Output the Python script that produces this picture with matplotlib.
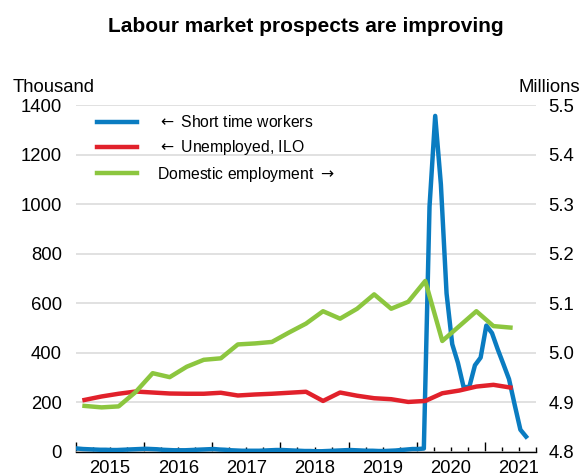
import matplotlib
matplotlib.use("Agg")
import matplotlib.pyplot as plt
import matplotlib.transforms as mtransforms
from matplotlib.lines import Line2D

plt.rcParams["font.family"] = ["Liberation Sans", "DejaVu Sans"]

BLUE, RED, GREEN, GRID = "#0a7cc1", "#e1212b", "#8cc63f", "#d9d9d9"
FS = 13.3

# quarterly series, 2015Q1 - 2021Q2
quarters = [(y, q) for y in range(2015, 2022) for q in range(4)][:26]
unemployed = [210, 224, 235, 244, 240, 236, 235, 235, 239, 228, 232, 235, 239,
              243, 206, 240, 227, 217, 213, 202, 206, 237, 248, 264, 271, 260]
employment = [4.893, 4.890, 4.892, 4.921, 4.959, 4.951, 4.972, 4.986, 4.989,
              5.017, 5.019, 5.022, 5.041, 5.059, 5.084, 5.069, 5.089, 5.118,
              5.089, 5.103, 5.145, 5.024, 5.054, 5.084, 5.054, 5.051]

# monthly short time workers, Jan 2015 - Aug 2021 (thousand)
months = [(y, m) for y in range(2015, 2022) for m in range(12)][:80]
short_time = [14, 12, 11, 10, 9, 9, 8, 8, 9, 10, 11, 12,
              13, 12, 11, 9, 8, 7, 7, 7, 8, 9, 10, 11,
              12, 10, 9, 7, 6, 5, 5, 5, 5, 6, 7, 8,
              8, 7, 6, 5, 4, 4, 3, 3, 4, 5, 6, 7,
              8, 7, 6, 5, 5, 4, 4, 5, 6, 8, 10, 12,
              12, 14, 990, 1356, 1080, 640, 435, 360, 262, 262, 350, 381,
              510, 480, 415, 355, 294, 190, 90, 62]

years = list(range(2015, 2022))

xq = [y + (q + 0.5) / 4 for y, q in quarters]
xm = [y + (m + 0.25) / 12 for y, m in months]

fig = plt.figure(figsize=(5.86, 4.76), dpi=100)
ax = fig.add_axes([76/586, 1-452/476, 460/586, 347/476])
ax2 = ax.twinx()

ax.set_xlim(2015, 2021.75)
ax.set_ylim(0, 1400)
ax2.set_ylim(4.8, 5.5)
ax.set_yticks(range(0, 1401, 200))
ax2.set_yticks([4.8, 4.9, 5.0, 5.1, 5.2, 5.3, 5.4, 5.5])
ax2.set_yticklabels([f"{v:.1f}" for v in ax2.get_yticks()])
ax.grid(axis="y", color=GRID, lw=1.1, zorder=0)
ax.set_axisbelow(True)

ax.plot(xm, short_time, color=BLUE, lw=3.2, solid_joinstyle="round", zorder=3)
ax.plot(xq, unemployed, color=RED, lw=3.2, solid_joinstyle="round", zorder=3)
ax2.plot(xq, employment, color=GREEN, lw=3.2, solid_joinstyle="round", zorder=3)

for a in (ax, ax2):
    for s in ("top", "left", "right"):
        a.spines[s].set_visible(False)
ax.spines["bottom"].set_color("black")
ax.spines["bottom"].set_linewidth(1.0)
ax2.spines["bottom"].set_visible(False)

ax.set_xticks(years)
ax.set_xticks([y + q / 4 for y in years for q in range(4) if y + q / 4 <= 2021.75], minor=True)
ax.tick_params(axis="x", which="major", direction="in", length=7, width=1, labelbottom=False)
ax.tick_params(axis="x", which="minor", direction="in", length=3.5, width=1)
ax.tick_params(axis="y", length=0, pad=10, labelsize=FS)
ax2.tick_params(axis="y", length=0, pad=9, labelsize=FS)

trans = mtransforms.blended_transform_factory(ax.transData, ax.transAxes)
for y in years:
    ax.text(y + 0.5, -0.022, str(y), transform=trans, ha="center", va="top", fontsize=FS)

fig.text(0.522, 1-27/476, "Labour market prospects are improving", ha="center", va="center",
         fontsize=15, fontweight="bold")
fig.text(13/586, 1-87/476, "Thousand", ha="left", va="center", fontsize=FS)
fig.text(580/586, 1-87/476, "Millions", ha="right", va="center", fontsize=FS)

handles = [Line2D([], [], color=BLUE, lw=3.2), Line2D([], [], color=RED, lw=3.2),
           Line2D([], [], color=GREEN, lw=3.2)]
labels = [r"$\leftarrow$ Short time workers", r"$\leftarrow$ Unemployed, ILO",
          r"Domestic employment $\rightarrow$"]
ax2.legend(handles, labels, loc="upper left", bbox_to_anchor=(0.015, 1.014), frameon=False,
           fontsize=11.3, handlelength=2.55, handletextpad=1.3, labelspacing=0.5)

fig.savefig("out.png", dpi=100)
